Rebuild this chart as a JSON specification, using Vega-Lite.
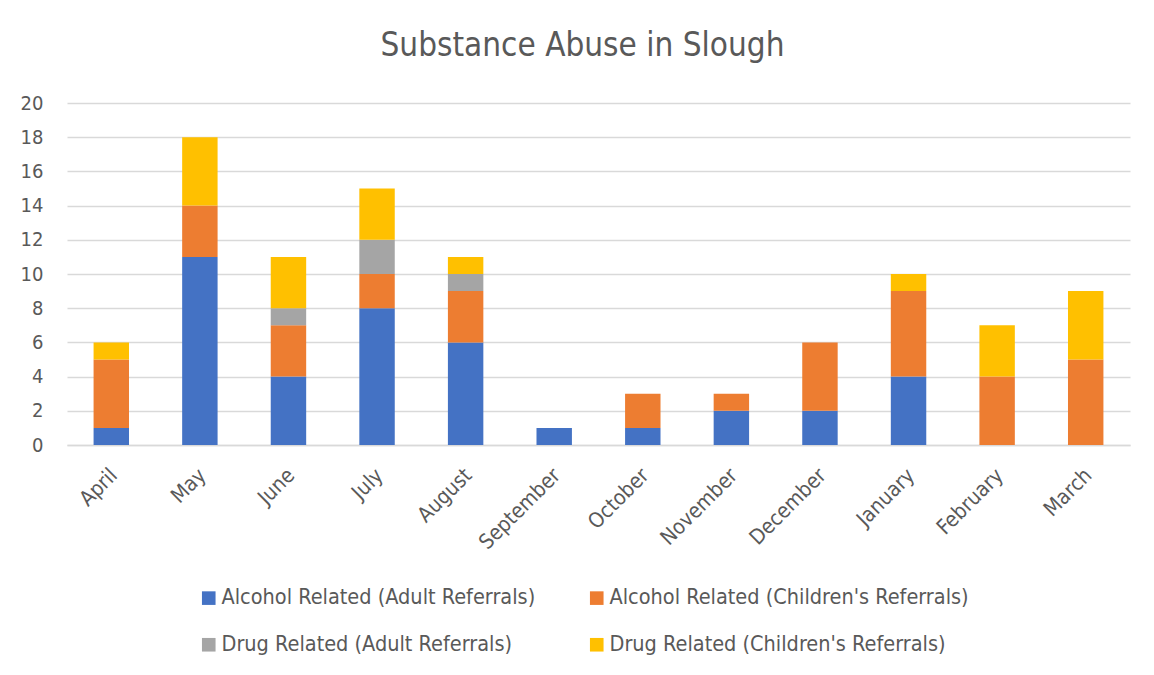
{
  "$schema": "https://vega.github.io/schema/vega-lite/v6.json",
  "width": 1063,
  "height": 342,
  "autosize": {"type": "none"},
  "padding": {"left": 67, "top": 103, "right": 24, "bottom": 230},
  "background": "#ffffff",
  "title": {
    "text": "Substance Abuse in Slough",
    "fontSize": 33,
    "font": "DejaVu Sans Condensed, DejaVu Sans",
    "fontWeight": "normal",
    "color": "#595959",
    "offset": 30,
    "dx": -16
  },
  "config": {
    "view": {"stroke": null},
    "font": "DejaVu Sans Condensed, DejaVu Sans"
  },
  "data": {
    "values": [
      {"month": "April", "series": "Alcohol Related (Adult Referrals)", "value": 1},
      {"month": "April", "series": "Alcohol Related (Children's Referrals)", "value": 4},
      {"month": "April", "series": "Drug Related (Children's Referrals)", "value": 1},
      {"month": "May", "series": "Alcohol Related (Adult Referrals)", "value": 11},
      {"month": "May", "series": "Alcohol Related (Children's Referrals)", "value": 3},
      {"month": "May", "series": "Drug Related (Children's Referrals)", "value": 4},
      {"month": "June", "series": "Alcohol Related (Adult Referrals)", "value": 4},
      {"month": "June", "series": "Alcohol Related (Children's Referrals)", "value": 3},
      {"month": "June", "series": "Drug Related (Adult Referrals)", "value": 1},
      {"month": "June", "series": "Drug Related (Children's Referrals)", "value": 3},
      {"month": "July", "series": "Alcohol Related (Adult Referrals)", "value": 8},
      {"month": "July", "series": "Alcohol Related (Children's Referrals)", "value": 2},
      {"month": "July", "series": "Drug Related (Adult Referrals)", "value": 2},
      {"month": "July", "series": "Drug Related (Children's Referrals)", "value": 3},
      {"month": "August", "series": "Alcohol Related (Adult Referrals)", "value": 6},
      {"month": "August", "series": "Alcohol Related (Children's Referrals)", "value": 3},
      {"month": "August", "series": "Drug Related (Adult Referrals)", "value": 1},
      {"month": "August", "series": "Drug Related (Children's Referrals)", "value": 1},
      {"month": "September", "series": "Alcohol Related (Adult Referrals)", "value": 1},
      {"month": "October", "series": "Alcohol Related (Adult Referrals)", "value": 1},
      {"month": "October", "series": "Alcohol Related (Children's Referrals)", "value": 2},
      {"month": "November", "series": "Alcohol Related (Adult Referrals)", "value": 2},
      {"month": "November", "series": "Alcohol Related (Children's Referrals)", "value": 1},
      {"month": "December", "series": "Alcohol Related (Adult Referrals)", "value": 2},
      {"month": "December", "series": "Alcohol Related (Children's Referrals)", "value": 4},
      {"month": "January", "series": "Alcohol Related (Adult Referrals)", "value": 4},
      {"month": "January", "series": "Alcohol Related (Children's Referrals)", "value": 5},
      {"month": "January", "series": "Drug Related (Children's Referrals)", "value": 1},
      {"month": "February", "series": "Alcohol Related (Children's Referrals)", "value": 4},
      {"month": "February", "series": "Drug Related (Children's Referrals)", "value": 3},
      {"month": "March", "series": "Alcohol Related (Children's Referrals)", "value": 5},
      {"month": "March", "series": "Drug Related (Children's Referrals)", "value": 4}
    ]
  },
  "mark": {"type": "bar"},
  "encoding": {
    "x": {
      "field": "month",
      "type": "nominal",
      "sort": ["April", "May", "June", "July", "August", "September", "October", "November", "December", "January", "February", "March"],
      "scale": {"paddingInner": 0.6, "paddingOuter": 0.3},
      "axis": {
        "title": null,
        "labelAngle": -45,
        "labelAlign": "right",
        "labelBaseline": "middle",
        "labelFontSize": 21,
        "labelColor": "#595959",
        "labelPadding": 27,
        "labelOffset": 3,
        "ticks": false,
        "domainColor": "#D9D9D9",
        "domainWidth": 1.5,
        "grid": false
      }
    },
    "y": {
      "field": "value",
      "type": "quantitative",
      "aggregate": "sum",
      "stack": "zero",
      "scale": {"domain": [0, 20]},
      "axis": {
        "title": null,
        "values": [0, 2, 4, 6, 8, 10, 12, 14, 16, 18, 20],
        "labelFontSize": 20,
        "labelColor": "#595959",
        "labelPadding": 24,
        "ticks": false,
        "domain": false,
        "gridColor": "#D9D9D9",
        "gridWidth": 1.5
      }
    },
    "color": {
      "field": "series",
      "type": "nominal",
      "scale": {
        "domain": ["Alcohol Related (Adult Referrals)", "Drug Related (Adult Referrals)", "Alcohol Related (Children's Referrals)", "Drug Related (Children's Referrals)"],
        "range": ["#4472C4", "#A5A5A5", "#ED7D31", "#FFC000"]
      },
      "legend": {
        "title": null,
        "orient": "none",
        "legendX": 131,
        "legendY": 484,
        "columns": 2,
        "symbolType": "square",
        "symbolSize": 185,
        "symbolStrokeWidth": 0,
        "labelFontSize": 21.5,
        "labelColor": "#595959",
        "labelOffset": 2,
        "rowPadding": 24,
        "columnPadding": 50,
        "labelLimit": 500
      }
    },
    "order": {"field": "series", "type": "nominal", "sort": "ascending"}
  }
}
